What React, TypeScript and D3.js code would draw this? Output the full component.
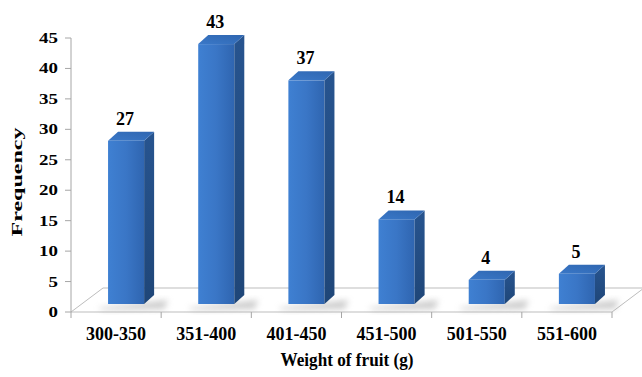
import React from "react";
import * as d3 from "d3";

const categories = ["300-350", "351-400", "401-450", "451-500", "501-550", "551-600"];
const frequencies = [27, 43, 37, 14, 4, 5];
const yTicks = [0, 5, 10, 15, 20, 25, 30, 35, 40, 45];
const xTitle = "Weight of fruit (g)";
const yTitle = "Frequency";

const W = 642;
const H = 377;
const FONT = "'Liberation Serif', 'Times New Roman', serif";

export default function App() {
  const x = d3.scaleBand<string>().domain(categories).range([71, 612]);
  const y = d3.scaleLinear().domain([0, 45]).range([312, 38]);
  // bars stand a third of the way into the floor
  const bz = { dx: 10, dy: -8 };
  const barY = d3.scaleLinear().domain([0, 45]).range([304, 32]);
  const depth = { dx: 32, dy: -24 };
  const barW = x.bandwidth() * 0.4;
  const side = { dx: 10, dy: -9 };

  const x0 = x.range()[0];
  const x1 = x.range()[1];
  const y0 = y(0);

  const floor = [
    [x0, y0],
    [x1, y0],
    [x1 + depth.dx, y0 + depth.dy],
    [x0 + depth.dx, y0 + depth.dy],
  ];

  return (
    <svg width={W} height={H} style={{ position: "absolute", left: 0, top: 0, background: "#fff" }}>
      <defs>
        <linearGradient id="front" x1="0" x2="1" y1="0" y2="0">
          <stop offset="0" stopColor="#3f80d2" />
          <stop offset="0.5" stopColor="#3a76c6" />
          <stop offset="1" stopColor="#2f65b0" />
        </linearGradient>
        <linearGradient id="sideG" x1="0" x2="0" y1="0" y2="1">
          <stop offset="0" stopColor="#27548f" />
          <stop offset="1" stopColor="#1f4678" />
        </linearGradient>
        <linearGradient id="topG" x1="0" x2="1" y1="1" y2="0">
          <stop offset="0" stopColor="#3a78c8" />
          <stop offset="1" stopColor="#2f66b0" />
        </linearGradient>
        <filter id="blur" x="-50%" y="-50%" width="200%" height="200%">
          <feGaussianBlur stdDeviation="3" />
        </filter>
      </defs>

      {/* floor */}
      <polygon
        points={floor.map((p) => p.join(",")).join(" ")}
        fill="#fff"
        stroke="#bdbdbd"
        strokeWidth={1}
      />

      {/* y axis */}
      <line x1={x0} x2={x0} y1={y(45)} y2={y0} stroke="#a6a6a6" />
      {yTicks.map((t) => (
        <g key={t}>
          <line x1={x0 - 6} x2={x0} y1={y(t)} y2={y(t)} stroke="#a6a6a6" />
          <text
            transform={`translate(${x0 - 13},${y(t) + 5}) scale(1.35,1)`}
            textAnchor="end"
            fontFamily={FONT}
            fontWeight="bold"
            fontSize={14}
            fill="#000"
          >
            {t}
          </text>
        </g>
      ))}

      {/* x axis ticks */}
      {[...categories.map((c) => x(c) as number), x1].map((v, i) => (
        <line key={i} x1={v} x2={v} y1={y0} y2={y0 + 6} stroke="#a6a6a6" />
      ))}

      {/* bars */}
      {categories.map((c, i) => {
        const v = frequencies[i];
        const cx = (x(c) as number) + x.bandwidth() / 2 + bz.dx;
        const l = cx - barW / 2;
        const r = cx + barW / 2;
        const b = barY(0);
        const t = barY(v);
        return (
          <g key={c}>
            <polygon
              points={`${l - 10},${b + 4} ${r + side.dx + 14},${b - 4} ${r + side.dx + 10},${b + 5} ${l - 6},${b + 6}`}
              fill="#9a9a9a"
              opacity={0.5}
              filter="url(#blur)"
            />
            <rect x={l} y={t} width={barW} height={b - t} fill="url(#front)" />
            <polygon
              points={`${r},${t} ${r + side.dx},${t + side.dy} ${r + side.dx},${b + side.dy} ${r},${b}`}
              fill="url(#sideG)"
            />
            <polygon
              points={`${l},${t} ${r},${t} ${r + side.dx},${t + side.dy} ${l + side.dx},${t + side.dy}`}
              fill="url(#topG)"
            />
            <text
              x={cx - 1}
              y={t - 16}
              textAnchor="middle"
              fontFamily={FONT}
              fontWeight="bold"
              fontSize={18}
              fill="#000"
            >
              {v}
            </text>
            <text
              x={(x(c) as number) + x.bandwidth() / 2}
              y={340}
              textAnchor="middle"
              fontFamily={FONT}
              fontWeight="bold"
              fontSize={18}
              fill="#000"
            >
              {c}
            </text>
          </g>
        );
      })}

      {/* axis titles */}
      <text
        x={347}
        y={366}
        textAnchor="middle"
        fontFamily={FONT}
        fontWeight="bold"
        fontSize={18}
        textLength={133}
        lengthAdjust="spacingAndGlyphs"
        fill="#000"
      >
        {xTitle}
      </text>
      <text
        transform={`translate(22,182) rotate(-90)`}
        textAnchor="middle"
        fontFamily={FONT}
        fontWeight="bold"
        fontSize={15}
        textLength={109}
        lengthAdjust="spacingAndGlyphs"
        fill="#000"
      >
        {yTitle}
      </text>
    </svg>
  );
}
